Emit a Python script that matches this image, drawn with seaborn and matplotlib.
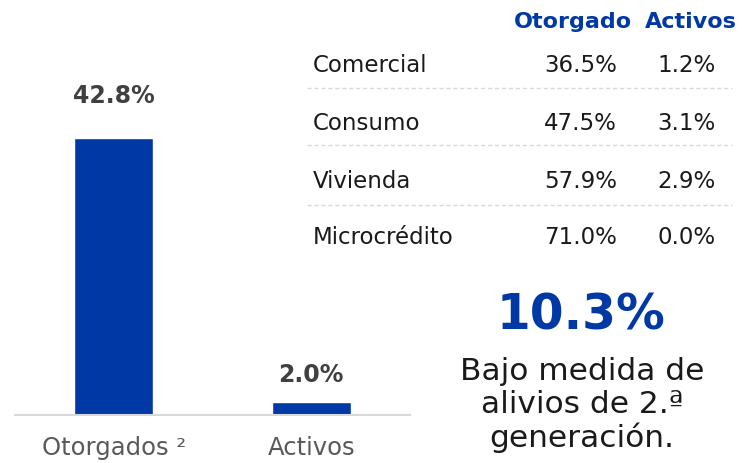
import matplotlib
matplotlib.use("Agg")
import matplotlib.pyplot as plt
import seaborn as sns
import pandas as pd

# --- datos ---
barras = ["Otorgados ²", "Activos"]
valores = [42.8, 2.0]

cartera = ["Comercial", "Consumo", "Vivienda", "Microcrédito"]
otorgado = [36.5, 47.5, 57.9, 71.0]
activos = [1.2, 3.1, 2.9, 0.0]

total_segunda = 10.3

AZUL = "#0039A6"
GRIS_TXT = "#404040"

sns.set_theme(style="white")
plt.rcParams["font.family"] = ["DejaVu Sans"]

fig = plt.figure(figsize=(7.42, 4.63), dpi=100)
ax = fig.add_axes([15 / 742, 48 / 463, 395 / 742, 355 / 463])

df = pd.DataFrame({"tipo": barras, "valor": valores})
sns.barplot(data=df, x="tipo", y="valor", color=AZUL, saturation=1, width=0.4, ax=ax)
ax.set_xlim(-0.5, 1.5)
ax.set_ylim(0, 54.9)

# etiquetas de valor
offsets = [22, 11]
for i, v in enumerate(valores):
    ax.annotate(f"{v:.1f}%", (i, v), xytext=(0, offsets[i]), textcoords="offset points",
                ha="center", va="bottom", fontsize=17, fontweight="bold", color=GRIS_TXT)

for s in ["top", "left", "right"]:
    ax.spines[s].set_visible(False)
ax.spines["bottom"].set_color("#d9d9d9")
ax.spines["bottom"].set_linewidth(1.5)
ax.set_yticks([])
ax.set_xlabel("")
ax.set_ylabel("")
ax.tick_params(axis="x", length=0, pad=15, labelsize=17.5, labelcolor="#595959")

# --- tabla ---
W, H = 742, 463
def fx(px):
    return px / W
def fy(py):
    return 1 - py / H

fig.text(fx(632), fy(22), "Otorgado", ha="right", va="center", fontsize=16,
         fontweight="bold", color=AZUL)
fig.text(fx(737), fy(22), "Activos", ha="right", va="center", fontsize=16,
         fontweight="bold", color=AZUL)

filas_y = [66, 123, 181, 238]
for j, (c, o, a) in enumerate(zip(cartera, otorgado, activos)):
    y = fy(filas_y[j])
    fig.text(fx(313), y, c, ha="left", va="center", fontsize=16.5, color="#1a1a1a")
    fig.text(fx(617), y, f"{o:.1f}%", ha="right", va="center", fontsize=16.5, color="#1a1a1a")
    fig.text(fx(716), y, f"{a:.1f}%", ha="right", va="center", fontsize=16.5, color="#1a1a1a")

for ly in [88, 145, 205]:
    fig.add_artist(plt.Line2D([fx(307), fx(732)], [fy(ly), fy(ly)], color="#d9d9d9",
                              lw=1, ls=(0, (3, 2))))

# --- dato destacado ---
fig.text(fx(581), fy(316), f"{total_segunda:.1f}%", ha="center", va="center",
         fontsize=35, fontweight="bold", color=AZUL)
fig.text(fx(582), fy(405), "Bajo medida de\nalivios de 2.ª\ngeneración.", ha="center",
         va="center", fontsize=22.5, color="#1a1a1a", linespacing=1.17)

fig.savefig("out.png", dpi=100)
